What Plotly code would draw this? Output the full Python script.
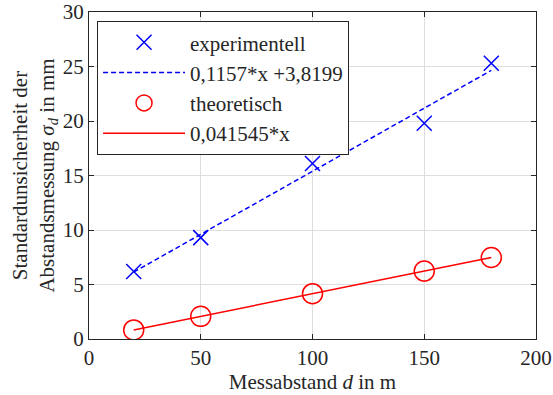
import plotly.graph_objects as go

# Data
distance = [20, 50, 100, 150, 180]
sigma_exp = [6.2, 9.3, 16.1, 19.8, 25.3]
fit_exp_slope = 0.1157
fit_exp_intercept = 3.8199
theo_slope = 0.041545
sigma_theo = [theo_slope * d for d in distance]
fit_exp = [fit_exp_slope * d + fit_exp_intercept for d in distance]

x_ticks = [0, 50, 100, 150, 200]
y_ticks = [0, 5, 10, 15, 20, 25, 30]

BLUE = "rgb(0,0,255)"
RED = "rgb(255,0,0)"
FONT = "Liberation Serif"
TXT = "rgb(38,38,38)"
FS = 21

fig = go.Figure()
fig.add_trace(go.Scatter(
    x=distance, y=sigma_exp, mode="markers", name="experimentell",
    marker=dict(symbol="x-thin", size=15, line=dict(color=BLUE, width=1.5), color=BLUE)))
fig.add_trace(go.Scatter(
    x=distance, y=fit_exp, mode="lines", name="0,1157*x +3,8199",
    line=dict(color=BLUE, width=1.5, dash="5px,3px")))
fig.add_trace(go.Scatter(
    x=distance, y=sigma_theo, mode="markers", name="theoretisch",
    marker=dict(symbol="circle-open", size=20, color=RED, line=dict(color=RED, width=1.5))))
fig.add_trace(go.Scatter(
    x=distance, y=sigma_theo, mode="lines", name="0,041545*x",
    line=dict(color=RED, width=1.5)))

axis_common = dict(
    showgrid=True, gridcolor="rgb(222,222,222)", gridwidth=1,
    showline=True, linecolor=TXT, linewidth=1, mirror="ticks",
    ticks="inside", ticklen=5, tickcolor=TXT, automargin=False,
    zeroline=False, tickfont=dict(family=FONT, size=FS, color=TXT),
)

fig.update_layout(
    width=553, height=395,
    margin=dict(l=89, r=17, t=12, b=56, autoexpand=False),
    paper_bgcolor="white", plot_bgcolor="white",
    font=dict(family=FONT, size=FS, color=TXT),
    xaxis=dict(range=[0, 200], tickvals=x_ticks,
               title=dict(text="Messabstand <i>d</i> in m", font=dict(family=FONT, size=FS, color=TXT), standoff=0),
               **axis_common),
    yaxis=dict(range=[0, 30], tickvals=y_ticks,
               title=dict(text="Standardunsicherheit der<br>Abstandsmessung <i>σ</i><sub><i>d</i></sub> in mm",
                          font=dict(family=FONT, size=FS, color=TXT), standoff=2),
               **axis_common),
    legend=dict(x=0.018, y=0.972, xanchor="left", yanchor="top",
                bgcolor="white", bordercolor=TXT, borderwidth=1,
                font=dict(family=FONT, size=FS, color=TXT),
                tracegroupgap=0, itemwidth=82),
    showlegend=True,
)

fig.write_html("out.html", config={"displayModeBar": False},
               post_script="document.body.style.margin='0';document.body.style.padding='0';")
